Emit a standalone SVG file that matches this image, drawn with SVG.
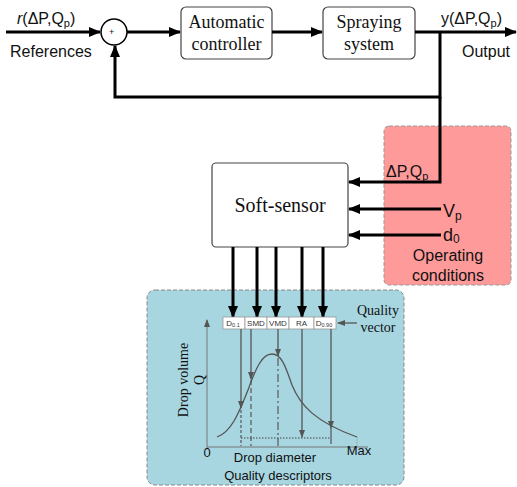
<svg xmlns="http://www.w3.org/2000/svg" width="517" height="487" viewBox="0 0 517 487">
  <style>
    .serif { font-family: "Liberation Serif", "Times New Roman", serif; fill: #111; }
    .sans { font-family: "Liberation Sans", Arial, sans-serif; fill: #111; }
    .box { fill: #fff; stroke: #444; stroke-width: 1.2; }
    .wire { fill: none; stroke: #000; stroke-width: 3; }
    .thin { fill: none; stroke: #555; stroke-width: 1.3; }
    .cell { fill: #fff; stroke: #999; stroke-width: 0.8; }
    .celltxt { font-family: "Liberation Sans", Arial, sans-serif; font-size: 8px; fill: #333; text-anchor: middle; }
  </style>
  <defs>
    <marker id="arrow" markerUnits="userSpaceOnUse" markerWidth="12" markerHeight="10" refX="11" refY="5" orient="auto">
      <path d="M0,0 L12,5 L0,10 Z" fill="#000"/>
    </marker>
    <marker id="arrowSmall" markerUnits="userSpaceOnUse" markerWidth="8" markerHeight="6" refX="7" refY="3" orient="auto">
      <path d="M0,0 L8,3 L0,6 Z" fill="#555"/>
    </marker>
  </defs>

  <!-- background panels -->
  <g id="operating-conditions">
    <rect x="384" y="126" width="127" height="159" rx="5" fill="#ff9a9a" stroke="#999" stroke-width="1" stroke-dasharray="4,2"/>
    <text class="sans" x="448" y="261" font-size="16" text-anchor="middle">Operating</text>
    <text class="sans" x="448" y="281" font-size="16" text-anchor="middle">conditions</text>
  </g>
  <g id="quality-descriptors">
    <rect x="147" y="290" width="257" height="195" rx="8" fill="#a7d6e1" stroke="#888" stroke-width="1" stroke-dasharray="4,2"/>
  </g>

  <!-- blocks -->
  <g id="sum">
    <circle cx="114" cy="32" r="13" fill="#fff" stroke="#000" stroke-width="1.5"/>
    <text class="sans" x="109" y="35" font-size="9">+</text>
  </g>
  <g id="controller">
    <rect class="box" x="181" y="7" width="91" height="52" rx="5"/>
    <text class="serif" x="226.5" y="28" font-size="18" text-anchor="middle">Automatic</text>
    <text class="serif" x="226.5" y="50" font-size="18" text-anchor="middle">controller</text>
  </g>
  <g id="spraying">
    <rect class="box" x="323" y="7" width="92" height="52" rx="5"/>
    <text class="serif" x="369" y="28" font-size="18" text-anchor="middle">Spraying</text>
    <text class="serif" x="369" y="50" font-size="18" text-anchor="middle">system</text>
  </g>
  <g id="soft-sensor">
    <rect class="box" x="212" y="163" width="136" height="84" rx="4"/>
    <text class="serif" x="280" y="212" font-size="20" text-anchor="middle">Soft-sensor</text>
  </g>

  <!-- labels -->
  <g id="labels">
    <text class="sans" x="17" y="24" font-size="16"><tspan font-style="italic">r</tspan>(ΔP,Q<tspan font-size="11" dy="3">p</tspan><tspan dy="-3">)</tspan></text>
    <text class="sans" x="10" y="57" font-size="16">References</text>
    <text class="sans" x="441" y="24" font-size="16">y(ΔP,Q<tspan font-size="11" dy="3">p</tspan><tspan dy="-3">)</tspan></text>
    <text class="sans" x="462" y="57" font-size="16">Output</text>
    <text class="sans" x="386" y="177" font-size="16">ΔP,Q<tspan font-size="11" dy="3">p</tspan></text>
    <text class="sans" x="443" y="217" font-size="18">V<tspan font-size="12" dy="3">p</tspan></text>
    <text class="sans" x="443" y="241" font-size="18">d<tspan font-size="12" dy="2">0</tspan></text>
  </g>

  <!-- connectors -->
  <g id="connectors">
    <line class="wire" x1="6" y1="32" x2="100" y2="32" marker-end="url(#arrow)"/>
    <line class="wire" x1="127" y1="32" x2="180" y2="32" marker-end="url(#arrow)"/>
    <line class="wire" x1="272" y1="32" x2="322" y2="32" marker-end="url(#arrow)"/>
    <line class="wire" x1="415" y1="32" x2="516" y2="32" marker-end="url(#arrow)"/>
    <polyline class="wire" points="440,32 440,97 115,97 115,46" marker-end="url(#arrow)"/>
    <polyline class="wire" points="440,97 440,182 349,182" marker-end="url(#arrow)"/>
    <line class="wire" x1="441" y1="209" x2="349" y2="209" marker-end="url(#arrow)"/>
    <line class="wire" x1="441" y1="235" x2="349" y2="235" marker-end="url(#arrow)"/>
    <line class="wire" x1="233" y1="247" x2="233" y2="317" marker-end="url(#arrow)"/>
    <line class="wire" x1="257" y1="247" x2="257" y2="317" marker-end="url(#arrow)"/>
    <line class="wire" x1="276" y1="247" x2="276" y2="317" marker-end="url(#arrow)"/>
    <line class="wire" x1="302" y1="247" x2="302" y2="317" marker-end="url(#arrow)"/>
    <line class="wire" x1="323" y1="247" x2="323" y2="317" marker-end="url(#arrow)"/>
  </g>

  <!-- quality vector -->
  <g id="quality-vector">
    <rect class="cell" x="223" y="317" width="22" height="12"/>
    <rect class="cell" x="245" y="317" width="22" height="12"/>
    <rect class="cell" x="267" y="317" width="22" height="12"/>
    <rect class="cell" x="289" y="317" width="25" height="12"/>
    <rect class="cell" x="314" y="317" width="22" height="12"/>
    <text class="celltxt" x="233" y="326">D<tspan font-size="5.5" dy="1">0.1</tspan></text>
    <text class="celltxt" x="256" y="326">SMD</text>
    <text class="celltxt" x="278" y="326">VMD</text>
    <text class="celltxt" x="301.5" y="326">RA</text>
    <text class="celltxt" x="324" y="326">D<tspan font-size="5.5" dy="1">0.90</tspan></text>
    <line class="thin" x1="357" y1="323" x2="338" y2="323" marker-end="url(#arrowSmall)"/>
    <text class="serif" x="378" y="315" font-size="14" text-anchor="middle">Quality</text>
    <text class="serif" x="378" y="332" font-size="14" text-anchor="middle">vector</text>
  </g>

  <!-- drop size distribution chart -->
  <g id="chart">
    <line x1="207" y1="448" x2="207" y2="320" stroke="#777" stroke-width="1" marker-end="url(#arrowSmall)"/>
    <line x1="207" y1="447" x2="368" y2="447" stroke="#777" stroke-width="1"/>
    <path class="thin" d="M217,437 C232,432 240,410 248,390 C256,368 262,354 272,354 C282,354 286,368 292,385 C300,405 315,422 357,437"/>
    <line class="thin" x1="241" y1="329" x2="241" y2="408" marker-end="url(#arrowSmall)"/>
    <line class="thin" x1="251" y1="329" x2="251" y2="379" marker-end="url(#arrowSmall)"/>
    <line class="thin" x1="278" y1="329" x2="278" y2="356" marker-end="url(#arrowSmall)"/>
    <line class="thin" x1="302" y1="329" x2="302" y2="437" marker-end="url(#arrowSmall)"/>
    <line class="thin" x1="331" y1="329" x2="331" y2="428" marker-end="url(#arrowSmall)"/>
    <line x1="331" y1="428" x2="331" y2="444" stroke="#555" stroke-width="1.2"/>
    <line x1="241" y1="410" x2="241" y2="446" stroke="#555" stroke-width="1.2" stroke-dasharray="3,2"/>
    <line x1="251" y1="380" x2="251" y2="446" stroke="#555" stroke-width="1.2" stroke-dasharray="5,3"/>
    <line x1="278" y1="358" x2="278" y2="446" stroke="#555" stroke-width="1.2" stroke-dasharray="8,3,2,3"/>
    <line x1="241" y1="438" x2="331" y2="438" stroke="#444" stroke-width="1" stroke-dasharray="1.5,1.5"/>
    <line x1="357" y1="437" x2="357" y2="447" stroke="#777" stroke-width="0.8" stroke-dasharray="1,1.5"/>
    <text class="serif" transform="translate(188,380) rotate(-90)" font-size="14" text-anchor="middle">Drop volume</text>
    <text class="serif" transform="translate(204,380) rotate(-90)" font-size="14" text-anchor="middle">Q</text>
    <text class="sans" x="207" y="457" font-size="13" text-anchor="middle">0</text>
    <text class="sans" x="359" y="455" font-size="13" text-anchor="middle">Max</text>
    <text class="sans" x="275" y="462" font-size="13" text-anchor="middle">Drop diameter</text>
    <text class="sans" x="278" y="480" font-size="13" text-anchor="middle">Quality descriptors</text>
  </g>
</svg>
